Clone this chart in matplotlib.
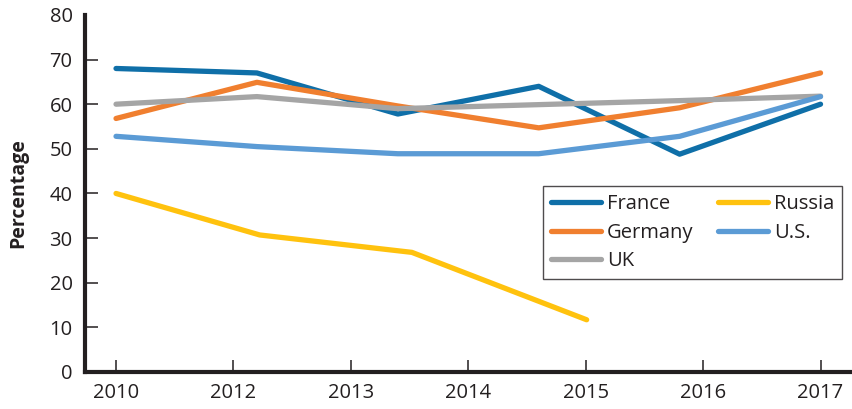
import matplotlib.pyplot as plt
import numpy as np

plt.rcParams['font.family'] = ['Open Sans', 'DejaVu Sans']

# tick labels along the bottom (7 evenly spaced labels)
year_labels = ['2010', '2012', '2013', '2014', '2015', '2016', '2017']

# survey points sit on 6 evenly spaced positions (0..5)
x_main = [0, 1, 2, 3, 4, 5]
france = [68, 67, 57.8, 64, 48.8, 60]
germany = [56.8, 64.9, 59.6, 54.7, 59.2, 67]
uk = [60, 61.7, 59, 59.9, 60.8, 61.8]
us = [52.8, 50.5, 48.9, 48.9, 52.8, 61.7]

# Russia stops early and its points fall off the grid
x_russia = [0, 1.02, 2.1, 3.34]
russia = [40, 30.7, 26.8, 11.7]

fig = plt.figure(figsize=(8.52, 4.09), dpi=100)
ax = fig.add_axes([0.0998, 0.0905, 0.898, 0.873])

lw = 3.8
ax.plot(x_main, france, color='#0f6fa8', lw=lw, solid_capstyle='round', solid_joinstyle='round', label='France')
ax.plot(x_main, germany, color='#f07f2f', lw=lw, solid_capstyle='round', solid_joinstyle='round', label='Germany')
ax.plot(x_main, uk, color='#a5a5a5', lw=lw, solid_capstyle='round', solid_joinstyle='round', label='UK')
ax.plot(x_russia, russia, color='#ffc20e', lw=lw, solid_capstyle='round', solid_joinstyle='round', label='Russia')
ax.plot(x_main, us, color='#5b9bd5', lw=lw, solid_capstyle='round', solid_joinstyle='round', label='U.S.')

ax.set_xlim(-0.22, 5.21)
ax.set_ylim(0, 80)
ax.set_xticks(np.linspace(0, 5, len(year_labels)))
ax.set_xticklabels(year_labels)
ax.set_yticks(np.arange(0, 81, 10))

for side in ['top', 'right']:
    ax.spines[side].set_visible(False)
for side in ['left', 'bottom']:
    ax.spines[side].set_linewidth(3)
    ax.spines[side].set_color('#231f20')

ax.tick_params(axis='both', direction='in', length=9, width=1.1, color='#231f20',
               labelsize=14.5, labelcolor='#231f20')
ax.tick_params(axis='y', pad=9)
ax.tick_params(axis='x', pad=8)
ax.yaxis.get_major_ticks()[-1].tick1line.set_visible(False)
ax.yaxis.get_major_ticks()[0].tick1line.set_visible(False)

ax.set_ylabel('Percentage', fontsize=14, fontweight='bold', color='#231f20', labelpad=15)

leg = ax.legend(ncol=2, loc='upper left', bbox_to_anchor=(0.598, 0.52), borderaxespad=0,
                fontsize=14.5, frameon=True, fancybox=False, edgecolor='#231f20',
                handlelength=2.5, handletextpad=0.3, columnspacing=1.2,
                labelspacing=0.42, borderpad=0.4)
leg.get_frame().set_linewidth(1)
for t in leg.get_texts():
    t.set_color('#231f20')

fig.savefig('out.png', dpi=100)
